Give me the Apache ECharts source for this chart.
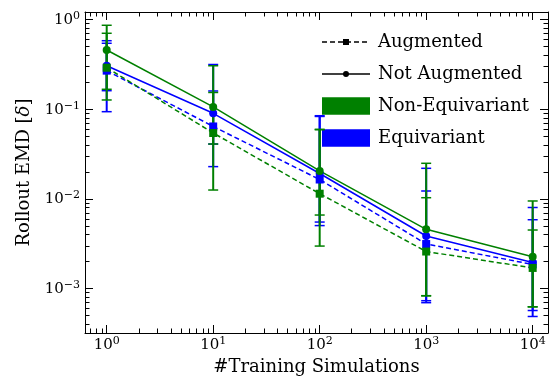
<!DOCTYPE html>
<html><head><meta charset="utf-8">
<script src="https://cdn.jsdelivr.net/npm/echarts@6/dist/echarts.min.js"></script>
<style>html,body{margin:0;padding:0;background:#fff}#c{width:550px;height:383px}</style>
</head><body><div id="c"></div>
<script>
// ---- data ----
const trainingSims = [1, 10, 100, 1000, 10000];

const nonEqNotAugMean  = [0.457, 0.106, 0.0205, 0.00458, 0.00227];
const nonEqNotAugUpper = [0.862, 0.305, 0.0597, 0.02494, 0.00948];
const nonEqNotAugLower = [0.1267, 0.01256, 0.00298, 0.000834, 0.000628];

const nonEqAugMean  = [0.290, 0.0543, 0.01143, 0.00259, 0.00170];
const nonEqAugUpper = [0.702, 0.1536, 0.0590, 0.01031, 0.00450];
const nonEqAugLower = [0.1667, 0.0409, 0.00661, 0.000830, 0.000625];

const eqNotAugMean  = [0.305, 0.090, 0.0192, 0.00386, 0.00195];
const eqNotAugUpper = [0.580, 0.315, 0.0846, 0.02193, 0.00802];
const eqNotAugLower = [0.0938, 0.0229, 0.00504, 0.000697, 0.000489];

const eqAugMean  = [0.269, 0.0642, 0.01645, 0.00314, 0.00186];
const eqAugUpper = [0.543, 0.1596, 0.0830, 0.01225, 0.00586];
const eqAugLower = [0.1608, 0.0409, 0.00552, 0.000733, 0.000570];

const xMajorTicks = [1, 10, 100, 1000, 10000];
const yMajorTicks = [0.001, 0.01, 0.1, 1];
const legendLabels = ['Augmented', 'Not Augmented', 'Non-Equivariant', 'Equivariant'];

// ---- helpers ----
function minorTicks(lo, hi) {
  const out = [];
  for (let e = lo; e <= hi; e++) for (let m = 2; m <= 9; m++) out.push(+(m * Math.pow(10, e)).toPrecision(6));
  return out;
}
const xMinorTicks = minorTicks(-1, 4);
const yMinorTicks = minorTicks(-4, 0);

const FONT = 'DejaVu Serif';
const GREEN = '#008000', BLUE = '#0000ff';
const XMIN = 0.6255, XMAX = 13930, YMIN = 3.2e-4, YMAX = 1.212;

function powLabel(v) {
  const e = Math.round(Math.log10(v));
  const es = e < 0 ? '\u2212' + (-e) : '' + e;
  return '{b|10}{s|' + es + '}';
}
const labelRich = {
  b: {fontFamily: FONT, fontSize: 15, lineHeight: 16, color: '#000', verticalAlign: 'bottom'},
  s: {fontFamily: FONT, fontSize: 11, lineHeight: 12, color: '#000', verticalAlign: 'bottom', padding: [0, 0, 6, 0]}
};

function mkAxis(kind, pos, major, extra) {
  const isX = kind === 'x';
  const ticks = major ? (isX ? xMajorTicks : yMajorTicks) : (isX ? xMinorTicks : yMinorTicks);
  const a = {
    type: 'log', logBase: 10,
    min: isX ? XMIN : YMIN, max: isX ? XMAX : YMAX,
    position: pos,
    axisLine: {show: major, onZero: false, lineStyle: {color: '#000', width: 1}},
    axisTick: {show: true, inside: true, length: major ? 8 : 4.5, customValues: ticks, lineStyle: {color: '#000', width: 1}},
    axisLabel: {show: false},
    splitLine: {show: false},
    minorTick: {show: false}
  };
  return Object.assign(a, extra || {});
}

const xAxes = [
  mkAxis('x', 'bottom', true, {
    axisLabel: {show: true, customValues: xMajorTicks, formatter: powLabel, rich: labelRich, margin: 4},
    name: '#Training Simulations', nameLocation: 'middle', nameGap: 22,
    nameTextStyle: {fontFamily: FONT, fontSize: 18, color: '#000'}
  }),
  mkAxis('x', 'bottom', false),
  mkAxis('x', 'top', true),
  mkAxis('x', 'top', false)
];
const yAxes = [
  mkAxis('y', 'left', true, {
    axisLabel: {show: true, customValues: yMajorTicks, formatter: powLabel, rich: labelRich, margin: 5},
    name: '{a|Rollout EMD [}{i|\u03b4}{a|]}', nameLocation: 'middle', nameGap: 52, nameRotate: 90,
    nameTextStyle: {rich: {
      a: {fontFamily: FONT, fontSize: 18, color: '#000'},
      i: {fontFamily: FONT, fontSize: 18, color: '#000', fontStyle: 'italic'}
    }}
  }),
  mkAxis('y', 'left', false),
  mkAxis('y', 'right', true),
  mkAxis('y', 'right', false)
];

function errSeries(name, color, lower, upper) {
  return {
    name: name, type: 'custom', xAxisIndex: 0, yAxisIndex: 0,
    data: trainingSims.map((x, i) => [x, lower[i], upper[i]]),
    encode: {x: 0, y: [1, 2]},
    renderItem: function (params, api) {
      const x = api.value(0);
      const p1 = api.coord([x, api.value(1)]);
      const p2 = api.coord([x, api.value(2)]);
      const hw = 5;
      return {type: 'group', children: [
        {type: 'line', shape: {x1: p1[0], y1: p1[1], x2: p2[0], y2: p2[1]}, style: {stroke: color, lineWidth: 2}},
        {type: 'line', shape: {x1: p1[0] - hw, y1: p1[1], x2: p1[0] + hw, y2: p1[1]}, style: {stroke: color, lineWidth: 1.5}},
        {type: 'line', shape: {x1: p2[0] - hw, y1: p2[1], x2: p2[0] + hw, y2: p2[1]}, style: {stroke: color, lineWidth: 1.5}}
      ]};
    }
  };
}
function lineSeries(name, color, mean, dashed) {
  return {
    name: name, type: 'line', xAxisIndex: 0, yAxisIndex: 0,
    data: trainingSims.map((x, i) => [x, mean[i]]),
    symbol: dashed ? 'rect' : 'circle', symbolSize: dashed ? 8 : 8,
    showSymbol: true,
    itemStyle: {color: color},
    lineStyle: {color: color, width: 1.5, type: dashed ? [5, 3] : 'solid'}
  };
}

const series = [
  errSeries('eqAugErr', BLUE, eqAugLower, eqAugUpper),
  lineSeries('eqAug', BLUE, eqAugMean, true),
  errSeries('eqNotAugErr', BLUE, eqNotAugLower, eqNotAugUpper),
  lineSeries('eqNotAug', BLUE, eqNotAugMean, false),
  errSeries('nonEqAugErr', GREEN, nonEqAugLower, nonEqAugUpper),
  lineSeries('nonEqAug', GREEN, nonEqAugMean, true),
  errSeries('nonEqNotAugErr', GREEN, nonEqNotAugLower, nonEqNotAugUpper),
  lineSeries('nonEqNotAug', GREEN, nonEqNotAugMean, false)
];

// legend (drawn as graphics)
const LX = 322, LW = 48, TX = 378;
const rowY = [42, 74, 106, 138];
const txt = (i) => ({type: 'text', x: TX, y: rowY[i], style: {text: legendLabels[i], fontFamily: FONT, fontSize: 18, fill: '#000', verticalAlign: 'middle', align: 'left'}});
const legendGraphic = {
  type: 'group', z: 100, children: [
    {type: 'rect', shape: {x: 312, y: 22, width: 230, height: 140, r: 3}, style: {fill: 'rgba(255,255,255,0.8)'}},
    {type: 'line', shape: {x1: LX, y1: rowY[0], x2: LX + LW, y2: rowY[0]}, style: {stroke: '#000', lineWidth: 1.5, lineDash: [5, 3]}},
    {type: 'rect', shape: {x: LX + LW / 2 - 3, y: rowY[0] - 3, width: 6, height: 6}, style: {fill: '#000'}},
    {type: 'line', shape: {x1: LX, y1: rowY[1], x2: LX + LW, y2: rowY[1]}, style: {stroke: '#000', lineWidth: 1.5}},
    {type: 'circle', shape: {cx: LX + LW / 2, cy: rowY[1], r: 3}, style: {fill: '#000'}},
    {type: 'rect', shape: {x: LX, y: rowY[2] - 8.75, width: LW, height: 17.5}, style: {fill: GREEN}},
    {type: 'rect', shape: {x: LX, y: rowY[3] - 8.75, width: LW, height: 17.5}, style: {fill: BLUE}},
    txt(0), txt(1), txt(2), txt(3)
  ]
};

const chart = echarts.init(document.getElementById('c'), null, {renderer: 'canvas'});
chart.setOption({
  animation: false,
  backgroundColor: '#fff',
  grid: {left: 85, right: 2, top: 12, bottom: 50, containLabel: false},
  xAxis: xAxes,
  yAxis: yAxes,
  series: series,
  graphic: [legendGraphic]
});
</script></body></html>
